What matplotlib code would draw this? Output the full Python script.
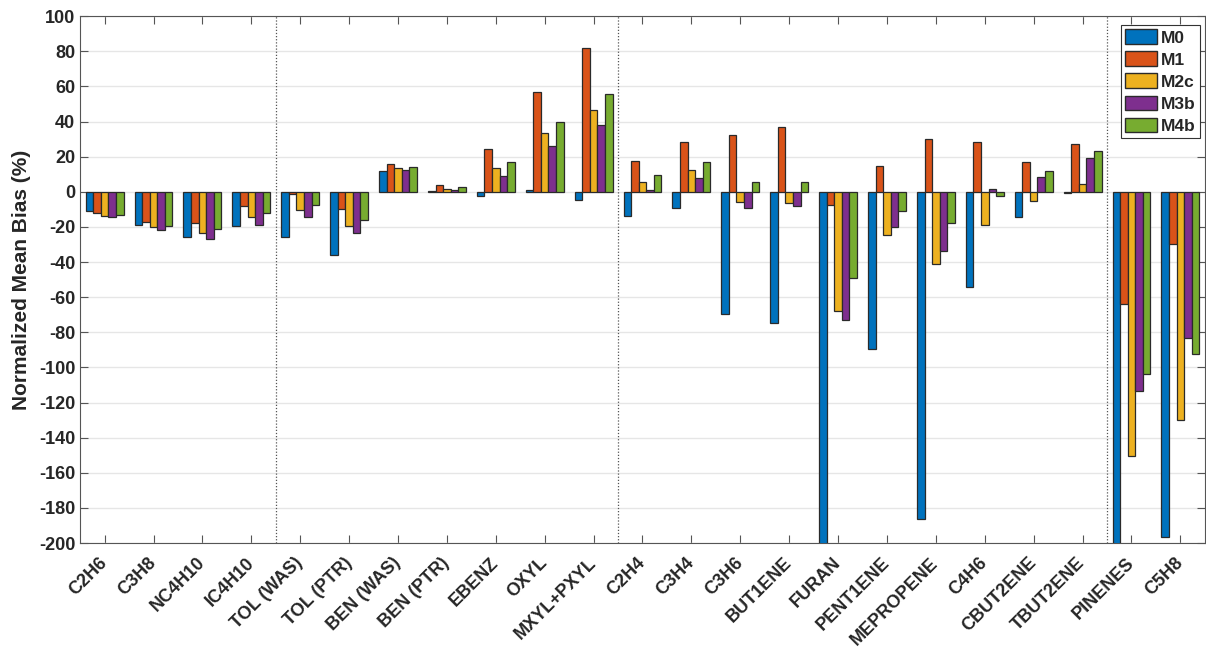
import numpy as np
import matplotlib
matplotlib.use('Agg')
import matplotlib.pyplot as plt
import matplotlib.transforms as mtransforms

# species on the x axis
species = ['C2H6', 'C3H8', 'NC4H10', 'IC4H10', 'TOL (WAS)', 'TOL (PTR)',
           'BEN (WAS)', 'BEN (PTR)', 'EBENZ', 'OXYL', 'MXYL+PXYL', 'C2H4',
           'C3H4', 'C3H6', 'BUT1ENE', 'FURAN', 'PENT1ENE', 'MEPROPENE',
           'C4H6', 'CBUT2ENE', 'TBUT2ENE', 'PINENES', 'C5H8']

# normalized mean bias (%) per model run (FURAN/PINENES M0 run off the axis)
m0 = [-11, -18.8, -25.6, -19.2, -25.8, -36, 12.1, 0.4, -2.3, 0.8, -4.6, -13.7,
      -9.5, -69.5, -74.8, -215, -89.3, -186.5, -54, -14.4, -0.9, -215, -196.3]
m1 = [-12.3, -17.3, -17.6, -8.2, -1.1, -9.7, 16.1, 4.0, 24.5, 57.1, 81.6, 17.6,
      28.1, 32.1, 36.8, -7.4, 14.8, 29.8, 28.1, 17.1, 27.1, -64.1, -30]
m2c = [-13.5, -20.1, -23.3, -14.2, -10.1, -19.2, 13.5, 1.7, 13.5, 33.2, 46.7, 5.3,
       12.5, -5.7, -6.6, -67.7, -24.5, -41.4, -18.8, -5.5, 4.6, -150.4, -130]
m3b = [-14.2, -21.8, -26.8, -18.8, -14.2, -23.3, 12.5, 0.8, 8.9, 25.8, 38.1, 0.8,
       7.6, -9.5, -8.2, -73, -20.1, -33.6, 1.7, 8.5, 19.4, -113.4, -83.1]
m4b = [-13.1, -19.2, -21.3, -12.3, -7.4, -15.9, 14.4, 2.7, 16.7, 39.8, 55.6, 9.5,
       17.1, 5.3, 5.7, -49, -10.8, -17.6, -2.3, 11.8, 23.1, -103.6, -92.2]

models = ['M0', 'M1', 'M2c', 'M3b', 'M4b']
series = [m0, m1, m2c, m3b, m4b]
colors = ['#0072BD', '#D95319', '#EDB120', '#7E2F8E', '#77AC30']

# group separators (between categories)
separators = [4.5, 11.5, 21.5]

plt.rcParams['font.family'] = ['Liberation Sans', 'DejaVu Sans']
plt.rcParams['font.weight'] = 'bold'
plt.rcParams['axes.unicode_minus'] = False
txtcol = '#262626'

fig = plt.figure(figsize=(12.06, 6.47), dpi=100)
ax = fig.add_axes([0.0665, 0.1607, 0.9325, 0.8143])

x = np.arange(1, len(species) + 1)
w = 0.155
for i, (vals, col, name) in enumerate(zip(series, colors, models)):
    ax.bar(x + (i - 2) * w, vals, w, color=col, edgecolor='#2a2a2a',
           linewidth=0.9, label=name, zorder=3)

for s in separators:
    ax.axvline(s, color='#555555', linestyle=(0, (1, 1.5)), linewidth=0.9, zorder=2)

ax.set_xlim(0.5, 23.5)
ax.set_ylim(-200, 100)
ax.set_yticks(np.arange(-200, 101, 20))
ax.set_xticks(x)
ax.set_xticklabels(species, rotation=45, ha='right', va='center',
                   rotation_mode='anchor', fontsize=13, fontweight='bold',
                   color=txtcol)
shift = mtransforms.ScaledTranslation(10 / 100, 0, fig.dpi_scale_trans)
for t in ax.get_xticklabels():
    t.set_transform(t.get_transform() + shift)
for t in ax.get_yticklabels():
    t.set_fontsize(13)
    t.set_fontweight('bold')
    t.set_color(txtcol)
ax.yaxis.grid(True, color='#e6e6e6', linewidth=1.0, zorder=0)
ax.set_axisbelow(True)
ax.tick_params(direction='in', top=True, right=True, length=6, color='#555555', width=0.8)
ax.tick_params(axis='x', pad=12.5)
for sp in ax.spines.values():
    sp.set_color('#555555')
ax.set_ylabel('Normalized Mean Bias (%)', fontsize=15, fontweight='bold',
              color=txtcol, labelpad=6)

leg = ax.legend(loc='upper right', fontsize=12.5, handlelength=1.85, handleheight=0.95,
                fancybox=False, edgecolor='#333333', framealpha=1,
                borderpad=0.25, labelspacing=0.32, handletextpad=0.2,
                borderaxespad=0, bbox_to_anchor=(0.9956, 0.983))
leg.get_frame().set_linewidth(0.8)
for t in leg.get_texts():
    t.set_color(txtcol)
for p in leg.get_patches():
    p.set_linewidth(1.0)

fig.savefig('out.png', dpi=100)
